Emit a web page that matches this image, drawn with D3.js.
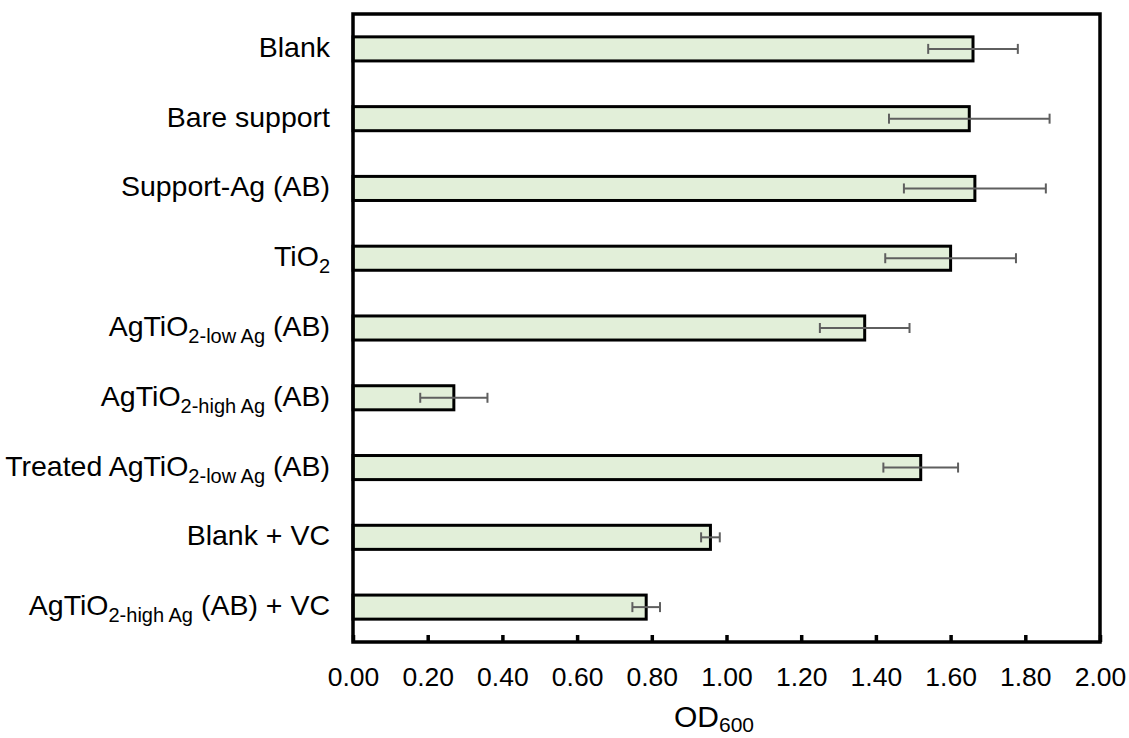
<!DOCTYPE html>
<html lang="en">
<head>
    <meta charset="UTF-8">
    <title>OD600 bar chart</title>
    <script src="https://d3js.org/d3.v7.min.js"></script>
    <style>
        body{
            margin: 0;
            background-color: white;
        }
        text{
            font-family: "Liberation Sans", Arial, sans-serif;
            fill: black;
        }
        .catLabel{
            font-size: 28.5px;
        }
        .axis text{
            font-size: 26.5px;
        }
    </style>
</head>
<body>
<svg id="canvas" width="1129" height="738"></svg>
<script>
    // category labels are split in three parts: main text, subscript, text after the subscript
    let labelMain = ["Blank", "Bare support", "Support-Ag (AB)", "TiO", "AgTiO", "AgTiO", "Treated AgTiO", "Blank + VC", "AgTiO"];
    let labelSub  = ["", "", "", "2", "2-low Ag", "2-high Ag", "2-low Ag", "", "2-high Ag"];
    let labelRest = ["", "", "", "", " (AB)", " (AB)", " (AB)", "", " (AB) + VC"];

    // OD600 means and error (+/-)
    let values = [1.66, 1.65, 1.665, 1.60, 1.37, 0.27, 1.52, 0.957, 0.785];
    let errors = [0.12, 0.215, 0.19, 0.175, 0.12, 0.09, 0.10, 0.025, 0.037];

    let xTicks = [0, 0.2, 0.4, 0.6, 0.8, 1.0, 1.2, 1.4, 1.6, 1.8, 2.0];

    let svg = d3.select('#canvas');

    // plot frame
    let plotLeft = 353, plotRight = 1100, plotTop = 14, plotBottom = 642;

    let ids = d3.range(values.length);

    let xscale = d3.scaleLinear().domain([0, 2]).range([plotLeft, plotRight]);
    let yscale = d3.scaleBand().domain(ids)
        .range([plotTop, plotBottom])
        .paddingInner(0.655)
        .paddingOuter(0.3275);

    // bars
    svg.append('g')
        .selectAll('rect')
        .data(ids)
        .enter()
        .append('rect')
        .attr('x', xscale(0))
        .attr('y', function(i){ return yscale(i) })
        .attr('width', function(i){ return xscale(values[i]) - xscale(0) })
        .attr('height', yscale.bandwidth())
        .attr('fill', '#e2efd9')
        .attr('stroke', 'black')
        .attr('stroke-width', 3);

    // error bars
    let errG = svg.append('g')
        .attr('stroke', '#5f5f5f')
        .attr('stroke-width', 2);
    ids.forEach(function(i){
        let yc = yscale(i) + yscale.bandwidth() / 2;
        let x0 = xscale(values[i] - errors[i]);
        let x1 = xscale(values[i] + errors[i]);
        errG.append('line').attr('x1', x0).attr('x2', x1).attr('y1', yc).attr('y2', yc);
        errG.append('line').attr('x1', x0).attr('x2', x0).attr('y1', yc - 5).attr('y2', yc + 5);
        errG.append('line').attr('x1', x1).attr('x2', x1).attr('y1', yc - 5).attr('y2', yc + 5);
    });

    // x axis with inward ticks
    let xAxis = svg.append('g')
        .attr('class', 'axis')
        .attr('transform', `translate(0,${plotBottom})`)
        .call(d3.axisBottom(xscale)
            .tickValues(xTicks)
            .tickFormat(d3.format('.2f'))
            .tickSizeInner(-7)
            .tickSizeOuter(0)
            .tickPadding(25));
    xAxis.select('.domain').remove();
    xAxis.selectAll('.tick line').attr('stroke', 'black').attr('stroke-width', 3.5);

    // frame
    svg.append('rect')
        .attr('x', plotLeft).attr('y', plotTop)
        .attr('width', plotRight - plotLeft).attr('height', plotBottom - plotTop)
        .attr('fill', 'none')
        .attr('stroke', 'black')
        .attr('stroke-width', 3.5);

    // category labels
    let labels = svg.append('g')
        .selectAll('text')
        .data(ids)
        .enter()
        .append('text')
        .attr('class', 'catLabel')
        .attr('text-anchor', 'end')
        .attr('x', 330)
        .attr('y', function(i){ return yscale(i) + yscale.bandwidth() / 2 + 8 });
    labels.append('tspan').text(function(i){ return labelMain[i] });
    labels.append('tspan')
        .attr('dy', function(i){ return labelSub[i] ? 7 : 0 })
        .style('font-size', '20px')
        .text(function(i){ return labelSub[i] });
    labels.append('tspan')
        .attr('dy', function(i){ return labelSub[i] ? -7 : 0 })
        .text(function(i){ return labelRest[i] });

    // x axis title
    let title = svg.append('text')
        .attr('x', 714)
        .attr('y', 727)
        .attr('text-anchor', 'middle')
        .style('font-size', '30px');
    title.append('tspan').text('OD');
    title.append('tspan').attr('dy', 5).style('font-size', '21px').text('600');
</script>
</body>
</html>
